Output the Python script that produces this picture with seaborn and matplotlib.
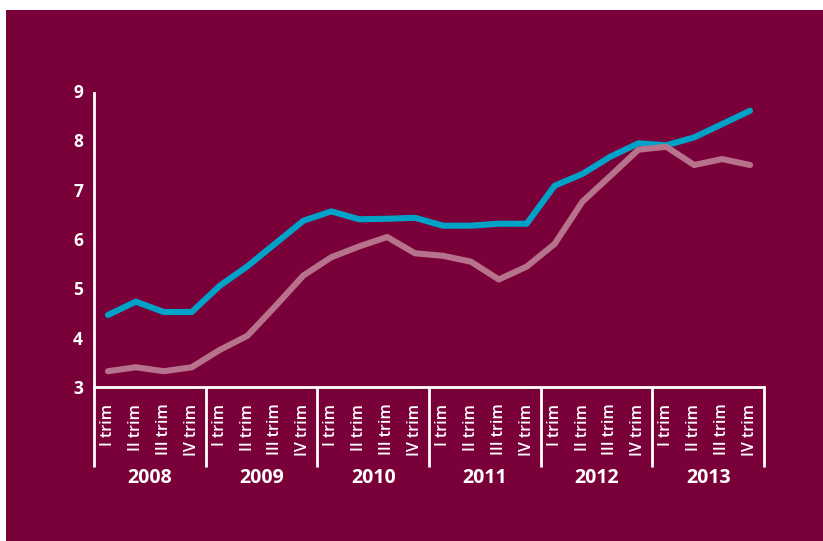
import matplotlib
matplotlib.use("Agg")
import matplotlib.pyplot as plt
import matplotlib.patches as mpatches
import matplotlib.transforms as mtransforms
import numpy as np
import pandas as pd
import seaborn as sns

# Quarterly series, 2008-2013
years = ["2008", "2009", "2010", "2011", "2012", "2013"]
quarters = ["I trim", "II trim", "III trim", "IV trim"]

blue_values = [4.46, 4.73, 4.52, 4.52,
               5.05, 5.45, 5.91, 6.37,
               6.56, 6.40, 6.41, 6.43,
               6.27, 6.27, 6.31, 6.31,
               7.08, 7.32, 7.67, 7.94,
               7.90, 8.06, 8.33, 8.60]
pink_values = [3.32, 3.40, 3.32, 3.40,
               3.75, 4.04, 4.64, 5.26,
               5.63, 5.85, 6.04, 5.71,
               5.66, 5.54, 5.18, 5.44,
               5.90, 6.76, 7.28, 7.81,
               7.87, 7.50, 7.62, 7.50]

y_ticks = [3, 4, 5, 6, 7, 8, 9]

BG = "#7a003a"
BLUE = "#00a3c7"
PINK = "#b7728c"
WHITE = "#ffffff"

n = len(blue_values)
idx = np.arange(n)
tick_labels = [q for _ in years for q in quarters]

df = pd.DataFrame({
    "pos": np.concatenate([idx, idx]),
    "value": blue_values + pink_values,
    "series": ["a"] * n + ["b"] * n,
})

fig = plt.figure(figsize=(8.23, 5.41), dpi=100, facecolor="white")
# maroon panel with a thin white margin at the top and left
fig.patches.append(mpatches.Rectangle((6 / 823, 0), 1 - 6 / 823, 1 - 10 / 541,
                                      transform=fig.transFigure, facecolor=BG,
                                      edgecolor="none", zorder=-5))

ax = fig.add_axes([94 / 823, (541 - 387) / 541, 670 / 823, 296 / 541])
ax.set_facecolor(BG)
ax.patch.set_alpha(0)

sns.lineplot(data=df, x="pos", y="value", hue="series",
             palette={"a": BLUE, "b": PINK}, hue_order=["a", "b"],
             linewidth=4.4, legend=False, ax=ax, solid_capstyle="round")
for line in ax.lines:
    line.set_solid_joinstyle("round")

ax.set_xlim(-0.5, n - 0.5)
ax.set_ylim(3, 9)
ax.set_xlabel("")
ax.set_ylabel("")

font = "Open Sans"
ax.set_yticks(y_ticks)
ax.set_yticklabels([str(t) for t in y_ticks], fontsize=12.5, fontweight="bold",
                   color=WHITE, family=font)
ax.set_xticks(idx)
ax.set_xticklabels(tick_labels, rotation=90, fontsize=11.5, fontweight="semibold",
                   color=WHITE, family=font, va="top", ha="center")
ax.tick_params(axis="y", length=0, pad=8)
ax.tick_params(axis="x", length=0, pad=12)

for side in ["top", "right"]:
    ax.spines[side].set_visible(False)
for side in ["left", "bottom"]:
    ax.spines[side].set_color(WHITE)
    ax.spines[side].set_linewidth(2)
ax.spines["left"].set_bounds(3, 8.96)

# year separators and year labels below the quarter labels
trans = mtransforms.blended_transform_factory(ax.transData, ax.transAxes)
sep_bottom = -(467 - 387) / 296
for k in range(len(years) + 1):
    xb = -0.5 + 4 * k
    ax.plot([xb, xb], [0, sep_bottom], transform=trans, color=WHITE,
            linewidth=2, clip_on=False, solid_capstyle="butt")
for k, yr in enumerate(years):
    ax.text(1.5 + 4 * k, -(478 - 387) / 296, yr, transform=trans,
            ha="center", va="center", fontsize=14, fontweight="bold",
            color=WHITE, family=font)

fig.savefig("out.png", dpi=100, facecolor=fig.get_facecolor())
